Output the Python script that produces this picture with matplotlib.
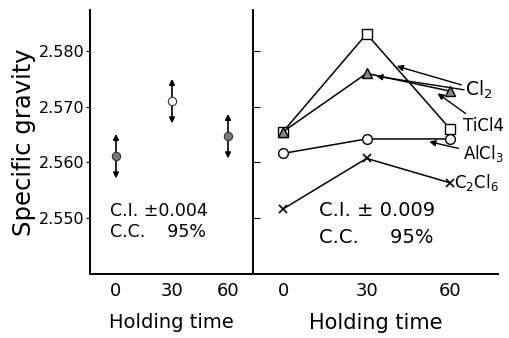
import matplotlib
matplotlib.use("Agg")
import matplotlib.pyplot as plt

# Left panel data
times = [0, 30, 60]
left_sg = [2.5611, 2.5710, 2.5647]
left_ci = 0.004
left_fill = ["#777777", "white", "#777777"]

# Right panel data
cl2 = [2.5655, 2.5831, 2.5660]
ticl4 = [2.5655, 2.5760, 2.5728]
alcl3 = [2.5616, 2.5642, 2.5642]
c2cl6 = [2.5516, 2.5607, 2.5563]

yticks = [2.550, 2.560, 2.570, 2.580]
ytick_labels = ["2.550", "2.560", "2.570", "2.580"]
xtick_labels = ["0", "30", "60"]

fig = plt.figure(figsize=(5.10, 3.38), dpi=100)
axL = fig.add_axes([90/510, 1-274/338, (253-90)/510, (274-10)/338])
axR = fig.add_axes([253/510, 1-274/338, (498-253)/510, (274-10)/338])

ylim = (2.5399, 2.5874)
for ax in (axL, axR):
    ax.set_ylim(*ylim)
    ax.spines["top"].set_visible(False)
    ax.spines["right"].set_visible(False)
    ax.spines["left"].set_linewidth(1.4)
    ax.spines["bottom"].set_linewidth(1.4)
    ax.set_xticks(times)
    ax.set_xticklabels(xtick_labels, fontsize=13)
    ax.tick_params(axis="x", length=0, pad=6)
    ax.set_yticks(yticks)

axL.set_xlim(-13.9, 73.4)
axR.set_xlim(-10.8, 77.2)

axL.set_yticklabels(ytick_labels, fontsize=11.5)
axL.tick_params(axis="y", direction="out", length=3, pad=1)
axR.set_yticklabels([])
axR.tick_params(axis="y", direction="in", length=5)

axL.set_ylabel("Specific gravity", fontsize=17.5, labelpad=2)
axL.set_xlabel("Holding time", fontsize=14, labelpad=9)
axR.set_xlabel("Holding time", fontsize=15, labelpad=9)

# left panel: points with double-arrow CI
for t, v, fc in zip(times, left_sg, left_fill):
    axL.annotate("", xy=(t, v + left_ci), xytext=(t, v - left_ci),
                 arrowprops=dict(arrowstyle="<|-|>", color="black", lw=1.2,
                                 mutation_scale=8, shrinkA=0, shrinkB=0,
                                 fill=True))
    axL.plot(t, v, "o", ms=6, mfc=fc, mec="#333333", mew=0.8, zorder=5)

axL.text(-3, 2.5513, "C.I. \u00b10.004", fontsize=12.5, va="center", ha="left")
axL.text(-3, 2.5475, "C.C.    95%", fontsize=12.5, va="center", ha="left")

# right panel series
axR.plot(times, cl2, "-", color="black", lw=1.1, marker="s", ms=7,
         mfc="white", mec="black", mew=1.0, zorder=3)
axR.plot(times, ticl4, "-", color="black", lw=1.1, marker="^", ms=7,
         mfc="#888888", mec="black", mew=1.0, zorder=4)
axR.plot(times, alcl3, "-", color="black", lw=1.1, marker="o", ms=7,
         mfc="white", mec="black", mew=1.0, zorder=3)
axR.plot(times, c2cl6, "-", color="black", lw=1.1, marker="x", ms=6,
         mec="black", mew=1.2, zorder=3)

axR.text(13, 2.5513, "C.I. \u00b1 0.009", fontsize=14, va="center", ha="left")
axR.text(13, 2.5465, "C.C.     95%", fontsize=14, va="center", ha="left")

# labels with arrows
arrow = dict(arrowstyle="-|>", color="black", lw=1.0, mutation_scale=9,
             shrinkA=1, shrinkB=0)
axR.annotate("Cl$_2$", xy=(40.8, 2.5773), xytext=(65.5, 2.5730),
             fontsize=13.5, va="center", ha="left", arrowprops=arrow)
axR.annotate("", xy=(33.5, 2.5755), xytext=(65.5, 2.5730), arrowprops=arrow)
axR.annotate("TiCl4", xy=(55.5, 2.5724), xytext=(64.5, 2.5665),
             fontsize=12, va="center", ha="left", arrowprops=arrow)
axR.annotate("AlCl$_3$", xy=(52.5, 2.5637), xytext=(64.5, 2.5615),
             fontsize=12, va="center", ha="left", arrowprops=arrow)
axR.text(61.5, 2.5563, "C$_2$Cl$_6$", fontsize=12, va="center", ha="left")

fig.savefig("out.png", dpi=100)
